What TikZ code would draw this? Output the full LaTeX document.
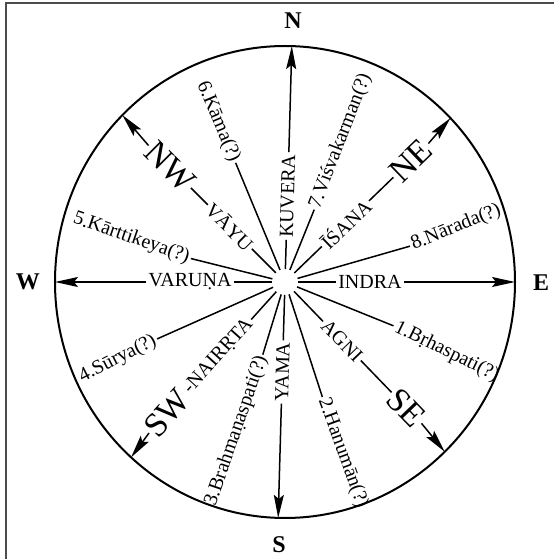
\documentclass[tikz,border=0pt]{standalone}
\usepackage{fontspec}
\setmainfont{Liberation Serif}
\usetikzlibrary{arrows.meta}
\begin{document}
\begin{tikzpicture}[x=1pt,y=1pt,
  spoke/.style={line width=1.5pt},
  arr/.style={spoke,-{Stealth[length=23pt,width=10pt,inset=4pt]}},
  lbl/.style={font=\fontsize{20}{20}\selectfont, inner sep=2pt},
  big/.style={font=\fontsize{34}{34}\selectfont, inner sep=1.5pt},
  card/.style={font=\fontsize{24}{24}\selectfont\bfseries, inner sep=0pt}]
\useasboundingbox (-285,282) rectangle (269,-277);
\fill[white] (-285,282) rectangle (269,-277);
\draw[black!70, line width=1.2pt] (-279,-277) -- (-279,279) -- (269,279);
\coordinate (O) at (0,0);
\draw[line width=2pt] (O) ellipse [x radius=230pt, y radius=236pt];

% cardinal letters
\node[card] (N) at (8,261) {N};
\node[card] (S) at (-6,-263) {S};
\node[card] (W) at (-257,0) {W};
\node[card] (E) at (256,-1) {E};

% rim points
\coordinate (rN) at (88.3:230 and 236);
\coordinate (rS) at (268.3:230 and 236);
\coordinate (rE) at (0:230 and 236);
\coordinate (rW) at (180:230 and 236);
\coordinate (rNE) at (44:230 and 236);
\coordinate (rNW) at (135:230 and 236);
\coordinate (rSE) at (314:230 and 236);
\coordinate (rSW) at (228:230 and 236);

% inner ends
\foreach \n/\a in {N/88.3,S/268.3,E/0,W/180,NE/44,NW/135,SE/314,SW/228,
  a/338,b/288,c/253,d/204,e/166,f/112.5,g/68,h/16}
  \coordinate (i\n) at (\a:13);

% North
\node[lbl, rotate=88.3] (kuvera) at (88.3:86) {KUVERA};
\draw[spoke] (iN) -- (kuvera.west);
\draw[arr] (kuvera.east) -- (rN);
% East
\node[lbl] (indra) at (0:85) {INDRA};
\draw[spoke] (iE) -- (indra.west);
\draw[arr] (indra.east) -- (rE);
% West
\node[lbl] (varuna) at (180:95) {VARUṆA};
\draw[spoke] (iW) -- (varuna.east);
\draw[arr] (varuna.west) -- (rW);
% South
\node[lbl, rotate=88.3] (yama) at (268.3:90) {YAMA};
\draw[spoke] (iS) -- (yama.east);
\draw[arr] (yama.west) -- (rS);
% North-east
\node[lbl, rotate=44] (isana) at (44:84) {ĪŚANA};
\node[big, rotate=44] (ne) at (44:175) {NE};
\draw[spoke] (iNE) -- (isana.west);
\draw[spoke] (isana.east) -- (ne.west);
\draw[arr] (ne.east) -- (rNE);
% North-west
\node[lbl, rotate=-45] (vayu) at (135:78) {VĀYU};
\node[big, rotate=-45] (nw) at (135:163) {NW};
\draw[spoke] (iNW) -- (vayu.east);
\draw[spoke] (vayu.west) -- (nw.east);
\draw[arr] (nw.west) -- (rNW);
% South-east
\node[lbl, rotate=-46] (agni) at (314:82) {AGNI};
\node[big, rotate=-46] (se) at (314:175) {SE};
\draw[spoke] (iSE) -- (agni.west);
\draw[spoke] (agni.east) -- (se.west);
\draw[arr] (se.east) -- (rSE);
% South-west
\node[big, rotate=48] (sw) at (228:176) {SW};
\node[lbl, rotate=48, anchor=west] (nairrta) at (sw.east) {-NAIRṚTA};
\draw[spoke] (iSW) -- (nairrta.east);
\draw[arr] (sw.west) -- (rSW);

% numbered spokes
\node[lbl, rotate=-26, anchor=west] (brh) at (338:117) {1.Bṛhaspati(?)};
\draw[spoke] (ia) -- (brh.west);
\node[lbl, rotate=-70, anchor=west] (han) at (288:121) {2.Hanumān(?)};
\draw[spoke] (ib) -- (han.west);
\node[lbl, rotate=71, anchor=east] (brahm) at (253:76) {3.Brahmaṇaspati(?)};
\draw[spoke] (ic) -- (brahm.east);
\node[lbl, rotate=27, anchor=east] (surya) at (204:140) {4.Sūrya(?)};
\draw[spoke] (id) -- (surya.east);
\node[lbl, rotate=-19, anchor=east] (kart) at (166:97) {5.Kārttikeya(?)};
\draw[spoke] (ie) -- (kart.east);
\node[lbl, rotate=-67, anchor=east] (kama) at (112.5:129) {6.Kāma(?)};
\draw[spoke] (if) -- (kama.east);
\node[lbl, rotate=69, anchor=west] (visva) at (68:78) {7.Viśvakarman(?)};
\draw[spoke] (ig) -- (visva.west);
\node[lbl, rotate=22, anchor=west] (narada) at (16:130) {8.Nārada(?)};
\draw[spoke] (ih) -- (narada.west);
\end{tikzpicture}
\end{document}
